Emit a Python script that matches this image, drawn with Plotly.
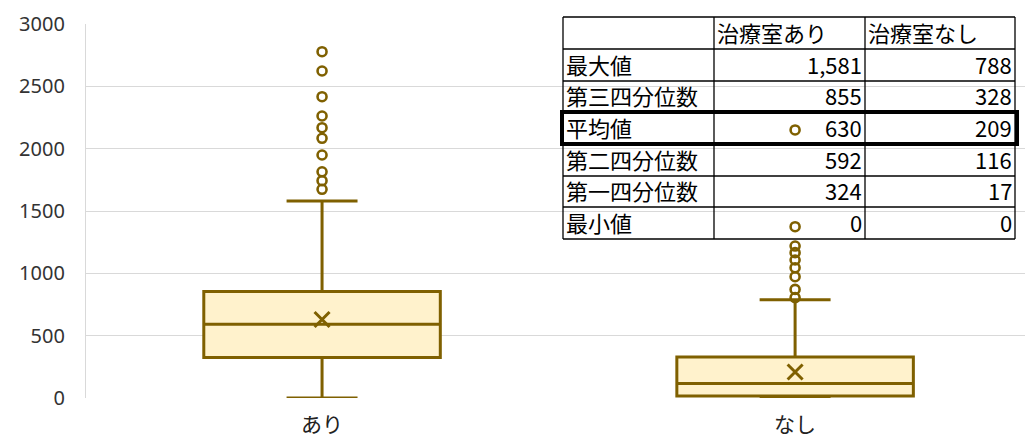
import plotly.graph_objects as go

# dati del grafico
categorie = ["あり", "なし"]
massimo = [1581, 788]
q3 = [855, 328]
media = [630, 209]
mediana = [592, 116]
q1 = [324, 17]
minimo = [0, 0]
outlier_ari = [2778, 2623, 2417, 2262, 2168, 2083, 1949, 1815, 1743, 1674]
outlier_nashi = [2150, 1374, 1219, 1166, 1107, 1045, 973, 871, 805]

# tabella
intestazioni = ["", "治療室あり", "治療室なし"]
righe = ["最大値", "第三四分位数", "平均値", "第二四分位数", "第一四分位数", "最小値"]
valori_ari = ["1,581", "855", "630", "592", "324", "0"]
valori_nashi = ["788", "328", "209", "116", "17", "0"]

LINEA = "#7F6000"
RIEMP = "#FFF2CC"
W, H = 1025, 442
ML, MR, MT, MB = 86, 0, 24, 44

fig = go.Figure()

for i, c in enumerate(categorie):
    fig.add_trace(go.Box(
        x=[c], q1=[q1[i]], median=[mediana[i]], q3=[q3[i]],
        lowerfence=[minimo[i]], upperfence=[massimo[i]],
        boxpoints=False, width=0.5, whiskerwidth=0.3,
        line=dict(color=LINEA, width=3), fillcolor=RIEMP,
        showlegend=False, hoverinfo="skip"))

# outlier
fig.add_trace(go.Scatter(
    x=[categorie[0]] * len(outlier_ari) + [categorie[1]] * len(outlier_nashi),
    y=outlier_ari + outlier_nashi, mode="markers",
    marker=dict(symbol="circle-open", size=9, color=LINEA, line=dict(width=2.6, color=LINEA)),
    showlegend=False))

# media
fig.add_trace(go.Scatter(
    x=categorie, y=media, mode="markers",
    marker=dict(symbol="x-thin", size=15, line=dict(width=3, color=LINEA), color=LINEA),
    showlegend=False))


# conversione pixel -> paper
def px(xp):
    return (xp - ML) / (W - ML - MR)


def py(yp):
    return (H - MB - yp) / (H - MT - MB)


col_x = [563, 714, 865, 1015]
row_y = [17, 49, 81, 112, 144, 176, 207, 239]

shapes = []
for yy in row_y:
    shapes.append(dict(type="line", xref="paper", yref="paper",
                       x0=px(col_x[0]), x1=px(col_x[-1]), y0=py(yy), y1=py(yy),
                       line=dict(color="black", width=1.3)))
for xx in col_x:
    shapes.append(dict(type="line", xref="paper", yref="paper",
                       x0=px(xx), x1=px(xx), y0=py(row_y[0]), y1=py(row_y[-1]),
                       line=dict(color="black", width=1.3)))
# riga della media evidenziata
shapes.append(dict(type="rect", xref="paper", yref="paper",
                   x0=px(562), x1=px(1017), y0=py(row_y[3]), y1=py(row_y[4]),
                   line=dict(color="black", width=4)))

annotations = []
font_tab = dict(family="Noto Sans CJK JP", size=22, color="black")
for j, t in enumerate(intestazioni):
    if t:
        annotations.append(dict(text=t, xref="paper", yref="paper", x=px(col_x[j] + 1),
                                y=py(row_y[1] + 1), xanchor="left", yanchor="bottom",
                                showarrow=False, font=font_tab))
for i, r in enumerate(righe):
    ybase = py(row_y[i + 2] + 1)
    annotations.append(dict(text=r, xref="paper", yref="paper", x=px(col_x[0] + 1), y=ybase,
                            xanchor="left", yanchor="bottom", showarrow=False, font=font_tab))
    annotations.append(dict(text=valori_ari[i], xref="paper", yref="paper", x=px(col_x[2] - 1),
                            y=ybase, xanchor="right", yanchor="bottom", showarrow=False, font=font_tab))
    annotations.append(dict(text=valori_nashi[i], xref="paper", yref="paper", x=px(col_x[3] - 1),
                            y=ybase, xanchor="right", yanchor="bottom", showarrow=False, font=font_tab))

fig.update_layout(
    width=W, height=H, margin=dict(l=ML, r=MR, t=MT, b=MB),
    plot_bgcolor="white", paper_bgcolor="white",
    shapes=shapes, annotations=annotations,
    xaxis=dict(type="category", categoryorder="array", categoryarray=categorie,
               range=[-0.499, 1.486], showgrid=False, zeroline=False,
               ticklabelstandoff=12,
               tickfont=dict(family="Noto Sans CJK JP", size=21, color="#222222")),
    yaxis=dict(range=[0, 3000], dtick=500, showgrid=True, gridcolor="#D9D9D9", gridwidth=1.3,
               zeroline=False, showline=True, linecolor="#D9D9D9", linewidth=1.3,
               ticklabelstandoff=16,
               tickfont=dict(family="Noto Sans", size=20, color="#333333")),
)

# tolgo il margine del body per allineare la figura all'angolo della pagina
fig.write_html("out.html", config={"displayModeBar": False},
               post_script="document.body.style.margin='0';document.body.style.overflow='hidden';")
